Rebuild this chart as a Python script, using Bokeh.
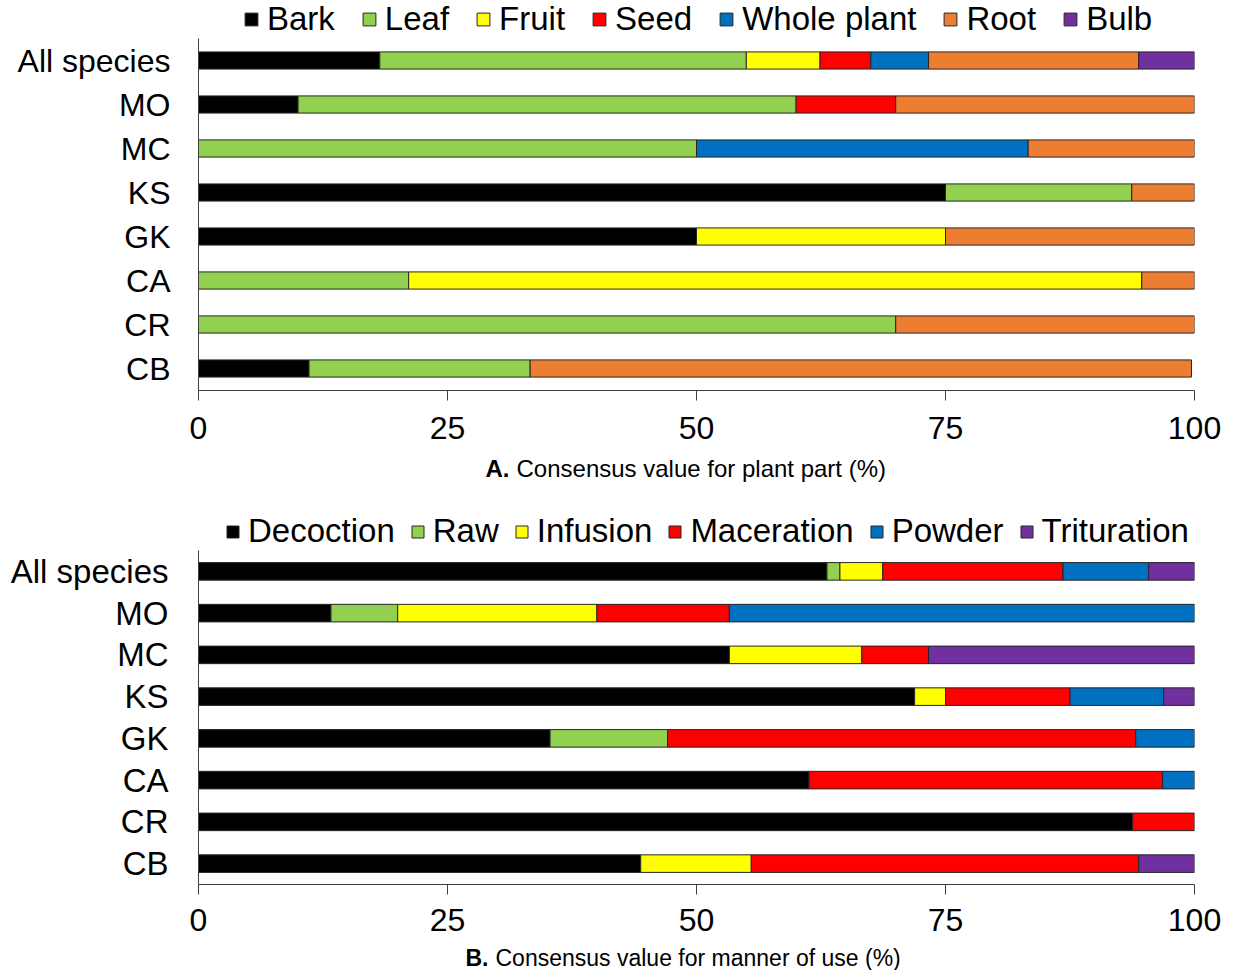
from bokeh.plotting import figure
from bokeh.models import (ColumnDataSource, Range1d, FactorRange, FixedTicker,
                          Legend, LegendItem)
from bokeh.core.properties import value
from bokeh.layouts import column
from bokeh.embed import file_html
from bokeh.resources import INLINE

# ---------------- data ----------------
categories = ["All species", "MO", "MC", "KS", "GK", "CA", "CR", "CB"]

# A. plant part (%)
part_names = ["Bark", "Leaf", "Fruit", "Seed", "Whole plant", "Root", "Bulb"]
bark = [18.2, 10.0, 0, 75.0, 50.0, 0, 0, 11.1]
leaf = [36.8, 50.0, 50.0, 18.7, 0, 21.1, 70.0, 22.2]
fruit = [7.4, 0, 0, 0, 25.0, 73.6, 0, 0]
seed = [5.1, 10.0, 0, 0, 0, 0, 0, 0]
whole_plant = [5.8, 0, 33.3, 0, 0, 0, 0, 0]
root = [21.1, 30.0, 16.7, 6.3, 25.0, 5.3, 30.0, 66.4]
bulb = [5.6, 0, 0, 0, 0, 0, 0, 0]

# B. manner of use (%)
use_names = ["Decoction", "Raw", "Infusion", "Maceration", "Powder", "Trituration"]
decoction = [63.1, 13.3, 53.3, 71.9, 35.3, 61.3, 93.8, 44.4]
raw = [1.3, 6.7, 0, 0, 11.8, 0, 0, 0]
infusion = [4.3, 20.0, 13.3, 3.1, 0, 0, 0, 11.1]
maceration = [18.1, 13.3, 6.7, 12.5, 47.0, 35.5, 6.2, 38.9]
powder = [8.6, 46.7, 0, 9.4, 5.9, 3.2, 0, 0]
trituration = [4.6, 0, 26.7, 3.1, 0, 0, 0, 5.6]

x_ticks = [0, 25, 50, 75, 100]

part_colors = ["#000000", "#92D050", "#FFFF00", "#FF0000", "#0070C0", "#ED7D31", "#7030A0"]
use_colors = ["#000000", "#92D050", "#FFFF00", "#FF0000", "#0070C0", "#7030A0"]

caption_a = ("A.", "Consensus value for plant part (%)")
caption_b = ("B.", "Consensus value for manner of use (%)")

FONT = "Liberation Sans"
W = 1232
LEFT = 198
RIGHT = 38
OUTLINE = "#262626"


def blank_fig(height, x_range, y_range):
    f = figure(width=W, height=height, output_backend="svg", toolbar_location=None,
               x_axis_type=None, y_axis_type=None,
               x_range=x_range, y_range=y_range,
               min_border_left=LEFT, min_border_right=RIGHT,
               min_border_top=0, min_border_bottom=0)
    f.outline_line_color = None
    f.xgrid.visible = False
    f.ygrid.visible = False
    return f


def legend_header(names, colors, height, font_size, spacing, glyph, loc):
    h = blank_fig(height, Range1d(0, 1), Range1d(0, 1))
    items = []
    for name, col in zip(names, colors):
        # a swatch-only renderer kept outside the visible range
        src = ColumnDataSource(dict(y=[-5], left=[-5], right=[-4]))
        r = h.hbar(y="y", left="left", right="right", height=0.5, source=src,
                   fill_color=col, line_color=OUTLINE, line_width=1)
        items.append(LegendItem(label=name, renderers=[r]))
    leg = Legend(items=items, orientation="horizontal", location=loc,
                 label_text_font=FONT, label_text_font_size=font_size,
                 label_text_color="#000000",
                 glyph_width=glyph, glyph_height=glyph,
                 label_standoff=8, spacing=spacing, padding=0, margin=0,
                 background_fill_alpha=0, border_line_alpha=0)
    h.add_layout(leg, "center")
    return h


def chart(series, colors, height, min_bottom, bar_h,
          tick_size, tick_standoff, cat_size, cat_standoff):
    p = figure(width=W, height=height, output_backend="svg", toolbar_location=None,
               x_range=Range1d(0, 100),
               y_range=FactorRange(factors=list(reversed(categories)), range_padding=0),
               min_border_left=LEFT, min_border_right=RIGHT,
               min_border_top=0, min_border_bottom=min_bottom)
    p.outline_line_color = None
    p.xgrid.visible = False
    p.ygrid.visible = False

    left = [0.0] * len(categories)
    for vals, col in zip(series, colors):
        cats, l, r = [], [], []
        for i, v in enumerate(vals):
            if v > 0:
                cats.append(categories[i])
                l.append(left[i])
                r.append(left[i] + v)
            left[i] += v
        src = ColumnDataSource(dict(y=cats, left=l, right=r))
        p.hbar(y="y", left="left", right="right", height=bar_h, source=src,
               fill_color=col, line_color=OUTLINE, line_width=1)

    xa = p.xaxis[0]
    xa.ticker = FixedTicker(ticks=x_ticks)
    xa.major_tick_out = 10
    xa.major_tick_in = 0
    xa.minor_tick_line_color = None
    xa.axis_line_color = "#404040"
    xa.major_tick_line_color = "#404040"
    xa.major_label_text_font = FONT
    xa.major_label_text_font_size = tick_size
    xa.major_label_text_color = "#000000"
    xa.major_label_standoff = tick_standoff

    ya = p.yaxis[0]
    ya.major_tick_out = 0
    ya.major_tick_in = 0
    ya.minor_tick_line_color = None
    ya.axis_line_color = "#404040"
    ya.major_label_text_font = FONT
    ya.major_label_text_font_size = cat_size
    ya.major_label_text_color = "#000000"
    ya.major_label_standoff = cat_standoff
    return p


def caption_fig(texts, height, x_bold, x_rest, y_from_bottom, size):
    # x range in page pixels across the frame (LEFT .. W-RIGHT)
    c = blank_fig(height, Range1d(LEFT, W - RIGHT), Range1d(0, height))
    c.text(x=[x_bold], y=[y_from_bottom], text=[texts[0]], text_font=value(FONT),
           text_font_size=size, text_font_style="bold", text_baseline="middle",
           text_align="left", text_color="#000000")
    c.text(x=[x_rest], y=[y_from_bottom], text=[texts[1]], text_font=value(FONT),
           text_font_size=size, text_baseline="middle", text_align="left",
           text_color="#000000")
    return c


head1 = legend_header(part_names, part_colors, 38, "33px", 26, 16, (45, 0))
p1 = chart([bark, leaf, fruit, seed, whole_plant, root, bulb], part_colors,
           height=414, min_bottom=62, bar_h=0.39,
           tick_size="32px", tick_standoff=16, cat_size="32px", cat_standoff=28)
cap1 = caption_fig(caption_a, 34, 485, 516, 18, "24px")

head2 = legend_header(use_names, use_colors, 64, "33px", 15, 15, (27, 0))
p2 = chart([decoction, raw, infusion, maceration, powder, trituration], use_colors,
           height=394, min_bottom=60, bar_h=0.42,
           tick_size="32px", tick_standoff=14, cat_size="33px", cat_standoff=30)
cap2 = caption_fig(caption_b, 26, 465, 495, 13, "23px")

layout = column(head1, p1, cap1, head2, p2, cap2, spacing=0)

open("out.html", "w").write(file_html(layout, INLINE))
